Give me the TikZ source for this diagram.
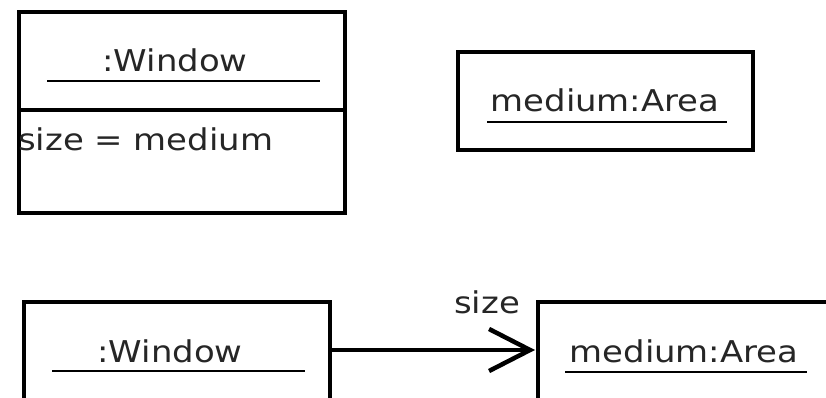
\documentclass[tikz,border=0pt]{standalone}
\usepackage{fontspec}
\setmainfont{DejaVu Sans}
\usetikzlibrary{arrows.meta}
% object-diagram labels: DejaVu Sans, slightly widened
\newcommand{\umltext}[1]{\scalebox{1.13}[1]{#1}}
\begin{document}
\begin{tikzpicture}[x=1pt,y=-1pt,
  objbox/.style={draw=black, line width=4.5pt, fill=white, inner sep=0pt,
    outer sep=0pt, anchor=north west},
  lbl/.style={inner sep=0pt, anchor=base, text=black!85,
    font=\fontsize{30}{35}\selectfont},
  uline/.style={draw=black, line width=2pt},
  assoc/.style={draw=black, line width=4.5pt,
    -{Straight Barb[length=41pt,width=42pt,line width=4.5pt]}}]
\useasboundingbox (0,0) rectangle (826,398);
\clip (0,0) rectangle (826,398);
\fill[white] (0,0) rectangle (826,398);

% window object with one attribute slot
\node[objbox, minimum width=326pt, minimum height=98pt] (winhead) at (19,12) {};
\node[objbox, minimum width=326pt, minimum height=103pt] (winbody) at (19,110) {};
\node[lbl] (wintitle) at (175,72) {\umltext{:Window}};
\coordinate (wu1) at (47,81);
\coordinate (wu2) at (320,81);
\draw[uline] (wu1) -- (wu2);
\node[lbl, anchor=base west] (winattr) at (18,150) {\umltext{size = medium}};

% standalone area object
\node[objbox, minimum width=295pt, minimum height=98pt] (area) at (458,52) {};
\node[lbl] (areatitle) at (605,112) {\umltext{medium:Area}};
\coordinate (au1) at (487,122);
\coordinate (au2) at (727,122);
\draw[uline] (au1) -- (au2);

% linked objects
\node[objbox, minimum width=306pt, minimum height=100pt] (win2) at (24,302) {};
\node[lbl] (win2title) at (170,362) {\umltext{:Window}};
\coordinate (wv1) at (52,371);
\coordinate (wv2) at (305,371);
\draw[uline] (wv1) -- (wv2);

\node[objbox, minimum width=310pt, minimum height=100pt] (area2) at (538,302) {};
\node[lbl] (area2title) at (684,362) {\umltext{medium:Area}};
\coordinate (av1) at (565,372);
\coordinate (av2) at (807,372);
\draw[uline] (av1) -- (av2);

% association link
\draw[assoc] ([yshift=2pt]win2.east) -- ([yshift=2pt,xshift=-3pt]area2.west);
\node[lbl] (linklbl) at (487,313) {\umltext{size}};
\end{tikzpicture}
\end{document}
